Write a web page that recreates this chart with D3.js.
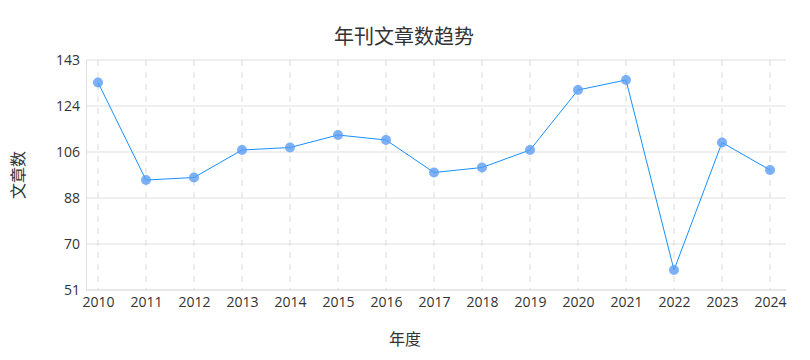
<!DOCTYPE html>
<html>
<head>
<meta charset="utf-8">
<script src="https://cdn.jsdelivr.net/npm/d3@7"></script>
<style>
  body { margin: 0; background: #fff; }
  text { font-family: "Open Sans", "Noto Sans CJK SC", sans-serif; }
</style>
</head>
<body>
<div id="main_plot"></div>
<script>
// data
var years = ["2010","2011","2012","2013","2014","2015","2016","2017","2018","2019","2020","2021","2022","2023","2024"];
var counts = [134, 95, 96, 107, 108, 113, 111, 98, 100, 107, 131, 135, 59, 110, 99];
var yTickLabels = ["51", "70", "88", "106", "124", "143"];
var yMin = 51, yMax = 143;

var W = 810, H = 360;
var margin = {top: 60, right: 24, bottom: 70, left: 86},
    width = W - margin.left - margin.right,
    height = H - margin.top - margin.bottom;

var svg = d3.select("#main_plot").append("svg")
    .attr("width", W).attr("height", H)
  .append("g")
    .attr("transform", "translate(" + margin.left + "," + margin.top + ")");

var x = d3.scalePoint()
  .domain(years)
  .range([12, width - 16]);

var y = d3.scaleLinear()
  .domain([yMin, yMax])
  .range([height, 0]);

// evenly spaced y ticks
var yTickVals = yTickLabels.map(function(d, i) {
  return yMin + i * (yMax - yMin) / (yTickLabels.length - 1);
});

// horizontal grid
svg.append("g")
  .selectAll("line")
  .data(yTickVals)
  .join("line")
    .attr("x1", 0).attr("x2", width)
    .attr("y1", function(d) { return y(d); })
    .attr("y2", function(d) { return y(d); })
    .attr("stroke", "#e0e0e0");

// vertical dashed grid
svg.append("g")
  .selectAll("line")
  .data(years)
  .join("line")
    .attr("x1", function(d) { return x(d); })
    .attr("x2", function(d) { return x(d); })
    .attr("y1", 0).attr("y2", height)
    .attr("stroke", "#d9d9d9")
    .attr("stroke-dasharray", "6,6");

// y axis
var yAxis = svg.append("g")
  .call(d3.axisLeft(y)
    .tickValues(yTickVals)
    .tickSize(0)
    .tickPadding(6)
    .tickFormat(function(d, i) { return yTickLabels[i]; }));
yAxis.select(".domain").attr("stroke", "#e0e0e0");
yAxis.selectAll("text").attr("fill", "#333").attr("font-size", 14);

// x axis
var xAxis = svg.append("g")
  .attr("transform", "translate(0," + height + ")")
  .call(d3.axisBottom(x).tickSize(0).tickPadding(7));
xAxis.select(".domain").attr("d", "M0,0H" + width).attr("stroke", "#e0e0e0");
xAxis.selectAll("text").attr("fill", "#333").attr("font-size", 14);

// line
svg.append("path")
  .datum(counts)
  .attr("fill", "none")
  .attr("stroke", "#1890ff")
  .attr("stroke-width", 1)
  .attr("d", d3.line()
    .x(function(d, i) { return x(years[i]); })
    .y(function(d) { return y(d); }));

// points
svg.append("g")
  .selectAll("circle")
  .data(counts)
  .join("circle")
    .attr("cx", function(d, i) { return x(years[i]); })
    .attr("cy", function(d) { return y(d); })
    .attr("r", 5)
    .attr("fill", "#5b9ef4")
    .attr("fill-opacity", 0.8);

// title and labels
var root = d3.select("svg");
root.append("text")
  .attr("x", 404).attr("y", 44)
  .attr("text-anchor", "middle")
  .attr("font-size", 20)
  .attr("fill", "#333")
  .text("年刊文章数趋势");

root.append("text")
  .attr("x", 405).attr("y", 345)
  .attr("text-anchor", "middle")
  .attr("font-size", 16)
  .attr("fill", "#333")
  .text("年度");

root.append("text")
  .attr("transform", "translate(24,175) rotate(-90)")
  .attr("text-anchor", "middle")
  .attr("font-size", 16)
  .attr("fill", "#333")
  .text("文章数");
</script>
</body>
</html>
